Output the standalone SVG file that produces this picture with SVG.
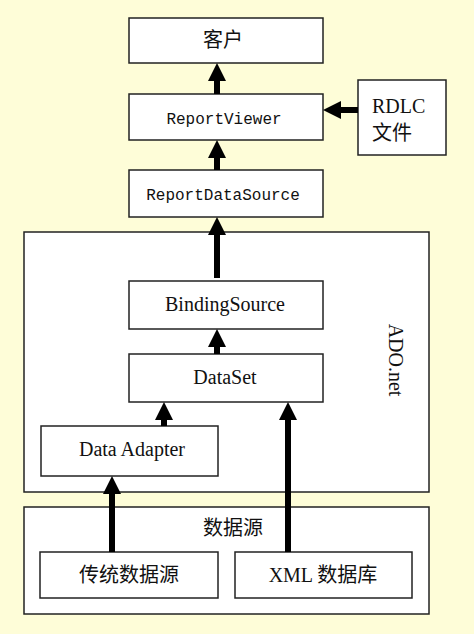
<svg xmlns="http://www.w3.org/2000/svg" width="474" height="634" viewBox="0 0 474 634">
<style>
.box{fill:#fff;stroke:#222;stroke-width:1.5}
.mono{font-family:"Liberation Mono","DejaVu Sans Mono",monospace;font-size:16px;fill:#111;text-anchor:middle}
.serif{font-family:"Liberation Serif","Times New Roman",serif;font-size:20px;fill:#111;text-anchor:middle}
.cjk{font-family:"Liberation Serif","Noto Sans CJK SC",sans-serif;font-size:20px;fill:#111;text-anchor:middle}
.start{text-anchor:start}
.arr{stroke:#000;stroke-width:6;fill:none;marker-end:url(#ah)}
</style>
<defs>
<marker id="ah" markerUnits="userSpaceOnUse" markerWidth="18" markerHeight="18" refX="4" refY="9" orient="auto">
<path d="M0,0 L18,9 L0,18 z" fill="#000"/>
</marker>
</defs>
<rect width="474" height="634" fill="#FEFDD8"/>
<g id="ado">
<rect class="box" x="24" y="232" width="405" height="260"/>
<text class="serif" transform="translate(389,360) rotate(90)">ADO.net</text>
</g>
<g id="datasource">
<rect class="box" x="24" y="507" width="405" height="107"/>
<text class="cjk" x="233" y="535">数据源</text>
</g>
<g id="client">
<rect class="box" x="129" y="18" width="194" height="45"/>
<text class="cjk" x="223" y="47">客户</text>
</g>
<g id="reportviewer">
<rect class="box" x="129" y="94" width="194" height="46"/>
<text class="mono" x="224" y="124">ReportViewer</text>
</g>
<g id="rdlc">
<rect class="box" x="358" y="80" width="88" height="75"/>
<text class="cjk start" x="372" y="113">RDLC</text>
<text class="cjk start" x="372" y="140">文件</text>
</g>
<g id="reportdatasource">
<rect class="box" x="129" y="170" width="194" height="47"/>
<text class="mono" x="223" y="200">ReportDataSource</text>
</g>
<g id="bindingsource">
<rect class="box" x="129" y="281" width="194" height="48"/>
<text class="serif" x="225" y="311">BindingSource</text>
</g>
<g id="dataset">
<rect class="box" x="129" y="354" width="194" height="48"/>
<text class="serif" x="225" y="384">DataSet</text>
</g>
<g id="dataadapter">
<rect class="box" x="41" y="426" width="177" height="50"/>
<text class="serif" x="132" y="456">Data Adapter</text>
</g>
<g id="traditional">
<rect class="box" x="40" y="552" width="178" height="46"/>
<text class="cjk" x="129" y="582">传统数据源</text>
</g>
<g id="xmldb">
<rect class="box" x="235" y="552" width="177" height="46"/>
<text class="cjk" x="323" y="582">XML 数据库</text>
</g>
<g id="connectors">
<line class="arr" x1="217" y1="94" x2="217" y2="77"/>
<line class="arr" x1="358" y1="110" x2="337" y2="110"/>
<line class="arr" x1="217" y1="170" x2="217" y2="154"/>
<line class="arr" x1="217" y1="278" x2="217" y2="231"/>
<line class="arr" x1="217" y1="354" x2="217" y2="343"/>
<line class="arr" x1="164" y1="426" x2="164" y2="416"/>
<line class="arr" x1="288" y1="552" x2="288" y2="416"/>
<line class="arr" x1="112" y1="552" x2="112" y2="490"/>
</g>
</svg>
